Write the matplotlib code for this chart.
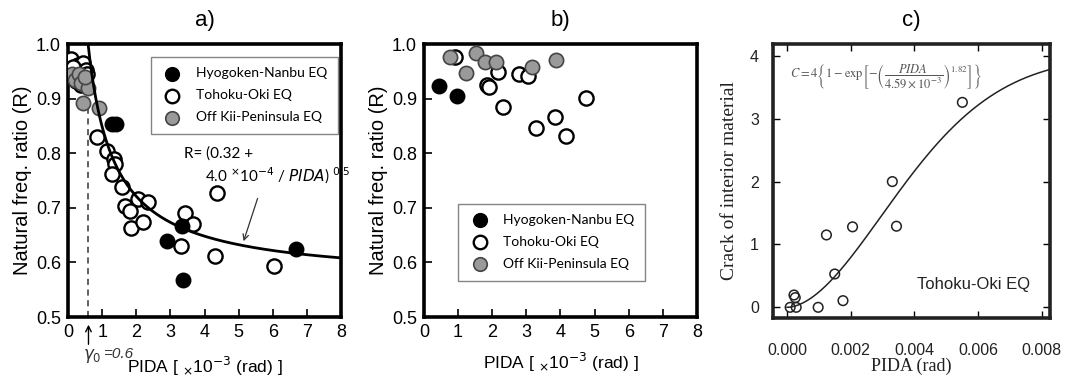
import numpy as np
import matplotlib
matplotlib.use("Agg")
import matplotlib.pyplot as plt

# ---------------- data ----------------
# a) PIDA [x1e-3 rad] vs natural frequency ratio R
a_hyogo_x = [1.28, 1.42, 2.91, 3.33, 3.36, 6.68]
a_hyogo_y = [0.853, 0.853, 0.640, 0.667, 0.568, 0.624]

a_tohoku_x = [0.10, 0.30, 0.45, 0.52, 0.22, 0.38, 0.55, 0.15,
              0.86, 1.15, 1.35, 1.38, 1.28, 1.57, 2.06, 2.35, 1.67, 1.82,
              1.86, 2.20, 4.36, 3.43, 3.67, 3.31, 4.31, 6.05]
a_tohoku_y = [0.972, 0.962, 0.965, 0.952, 0.932, 0.925, 0.945, 0.958,
              0.830, 0.805, 0.789, 0.781, 0.762, 0.738, 0.717, 0.711, 0.703, 0.694,
              0.663, 0.674, 0.727, 0.690, 0.670, 0.630, 0.612, 0.594]

a_kii_x = [0.12, 0.20, 0.32, 0.38, 0.60, 0.44, 0.91, 0.50]
a_kii_y = [0.946, 0.935, 0.946, 0.928, 0.920, 0.892, 0.882, 0.940]

# b) after-shock records
b_hyogo_x = [0.44, 0.98]
b_hyogo_y = [0.923, 0.905]

b_tohoku_x = [0.90, 1.85, 1.92, 2.17, 2.78, 3.04, 2.33, 3.27, 3.85, 4.17, 4.75]
b_tohoku_y = [0.977, 0.925, 0.922, 0.949, 0.946, 0.942, 0.885, 0.847, 0.867, 0.831, 0.902]

b_kii_x = [0.77, 1.53, 1.80, 2.12, 1.22, 3.17, 3.87]
b_kii_y = [0.976, 0.984, 0.968, 0.968, 0.947, 0.958, 0.971]

# c) PIDA [rad] vs crack grade of interior material
c_pida = [0.00010, 0.00022, 0.00026, 0.00029, 0.00098, 0.00124, 0.00150,
          0.00176, 0.00206, 0.00331, 0.00344, 0.00551]
c_crack = [0.0, 0.196, 0.154, 0.0, 0.0, 1.151, 0.53, 0.106, 1.28, 2.0, 1.29, 3.26]

# fitted model parameters
r_a, r_b, r_p = 0.32, 0.4, 0.5          # R = (0.32 + 4.0e-4 / PIDA)^0.5 (PIDA in 1e-3 rad)
gamma0 = 0.6
c_max, c_ref, c_exp = 4.0, 4.59e-3, 1.82

x_ticks_ab = [0, 1, 2, 3, 4, 5, 6, 7, 8]
y_ticks_ab = [0.5, 0.6, 0.7, 0.8, 0.9, 1.0]
c_xticks = [0.000, 0.002, 0.004, 0.006, 0.008]
c_yticks = [0, 1, 2, 3, 4]

labels = ["Hyogoken-Nanbu EQ", "Tohoku-Oki EQ", "Off Kii-Peninsula EQ"]

# ---------------- styling ----------------
SANS = ["Liberation Sans", "DejaVu Sans"]
LEG = ["Lato", "DejaVu Sans"]
SERIF = ["Liberation Serif", "DejaVu Serif"]
GRAY = "#9a9a9a"

fig = plt.figure(figsize=(10.66, 3.85), dpi=100)

ax_a = fig.add_axes([0.0638, 0.1766, 0.2561, 0.709])
ax_b = fig.add_axes([0.3977, 0.1766, 0.2561, 0.709])
ax_c = fig.add_axes([0.7251, 0.174, 0.2598, 0.712])


def style_ab(ax):
    ax.set_xlim(0, 8)
    ax.set_ylim(0.5, 1.0)
    ax.set_xticks(x_ticks_ab)
    ax.set_yticks(y_ticks_ab)
    ax.set_xticklabels([str(t) for t in x_ticks_ab], family=SANS, fontsize=13)
    ax.set_yticklabels([f"{t:.1f}" for t in y_ticks_ab], family=SANS, fontsize=13)
    ax.tick_params(direction="in", length=6, width=1.2, pad=5)
    for s in ax.spines.values():
        s.set_linewidth(2.6)
    ax.set_ylabel("Natural freq. ratio (R)", family=SANS, fontsize=14.5, labelpad=3)


def scatter_groups(ax, hx, hy, tx, ty, kx, ky, size=105):
    ax.scatter(tx, ty, s=size, facecolor="white", edgecolor="black", linewidth=1.7,
               zorder=3, label=labels[1])
    ax.scatter(kx, ky, s=size, facecolor=GRAY, edgecolor="#444444", linewidth=1.2,
               zorder=4, label=labels[2])
    ax.scatter(hx, hy, s=size, facecolor="black", edgecolor="black", linewidth=1.2,
               zorder=5, label=labels[0])


def legend_ab(ax, anchor):
    h, l = ax.get_legend_handles_labels()
    order = [l.index(x) for x in labels]
    leg = ax.legend([h[i] for i in order], [l[i] for i in order], loc="upper left",
                    bbox_to_anchor=anchor, frameon=True, fancybox=False,
                    edgecolor="#666666", prop={"family": LEG, "size": 10},
                    handletextpad=0.9, labelspacing=0.72, borderpad=0.75,
                    handlelength=1.6, borderaxespad=0.0, markerscale=0.95)
    leg.get_frame().set_linewidth(1.0)
    leg.set_zorder(2)
    return leg


# ---------------- panel a ----------------
style_ab(ax_a)
scatter_groups(ax_a, a_hyogo_x, a_hyogo_y, a_tohoku_x, a_tohoku_y, a_kii_x, a_kii_y)
xs = np.linspace(r_b / (1 - r_a) * 0.999, 8, 400)
ax_a.plot(xs, np.sqrt(r_a + r_b / xs), color="black", lw=2.0, zorder=6)
ax_a.plot([gamma0, gamma0], [0.5, 0.89], ls=(0, (4, 3)), color="#333333", lw=1.1, zorder=2)
legend_ab(ax_a, (0.303, 0.953))
ax_a.text(3.4, 0.80, "R= (0.32 +", family=LEG, fontsize=11, va="center")
ax_a.text(4.0, 0.758, r"4.0 $^{\times}$10$^{-4}$ / $\it{PIDA}$) $^{0.5}$", family=LEG,
          fontsize=11, va="center")
ax_a.annotate("", xy=(5.12, 0.634), xytext=(5.58, 0.722),
              arrowprops=dict(arrowstyle="->", color="#333333", lw=0.9))
ax_a.set_title("a)", family=SANS, fontsize=16, pad=13)
# yield drift marker below the axis
ax_a.annotate("", xy=(gamma0, 0.491), xytext=(gamma0, 0.445),
              xycoords="data", annotation_clip=False,
              arrowprops=dict(arrowstyle="->", color="black", lw=1.0))
ax_a.text(0.45, 0.428, r"$\gamma_0$", fontsize=12, va="center",
          color="#333333", clip_on=False)
ax_a.text(1.02, 0.433, "=0.6", fontsize=11, family=SANS, style="italic",
          va="center", color="#333333", clip_on=False)
ax_a.set_xlabel(r"PIDA [ $_{\times}$10$^{-3}$ (rad) ]", family=SANS, fontsize=12.5, labelpad=10)

# ---------------- panel b ----------------
style_ab(ax_b)
scatter_groups(ax_b, b_hyogo_x, b_hyogo_y, b_tohoku_x, b_tohoku_y, b_kii_x, b_kii_y)
legend_ab(ax_b, (0.125, 0.415))
ax_b.set_title("b)", family=SANS, fontsize=16, pad=13)
ax_b.set_xlabel(r"PIDA [ $_{\times}$10$^{-3}$ (rad) ]", family=SANS, fontsize=12.5, labelpad=7)

# ---------------- panel c ----------------
ax_c.set_xlim(-0.00044, 0.00826)
ax_c.set_ylim(-0.17, 4.19)
ax_c.set_xticks(c_xticks)
ax_c.set_yticks(c_yticks)
ax_c.set_xticklabels([f"{t:.3f}" for t in c_xticks], family=SANS, fontsize=11.5, color="#222222")
ax_c.set_yticklabels([str(t) for t in c_yticks], family=SANS, fontsize=11.5, color="#222222")
ax_c.tick_params(direction="in", length=5, width=1.0, top=True, right=True)
ax_c.tick_params(axis="x", pad=18)
ax_c.tick_params(axis="y", pad=10)
for s in ax_c.spines.values():
    s.set_linewidth(2.6)
    s.set_color("#222222")
xc = np.linspace(0, 0.00826, 400)
ax_c.plot(xc, c_max * (1 - np.exp(-(xc / c_ref) ** c_exp)), color="#222222", lw=1.1, zorder=2)
ax_c.scatter(c_pida, c_crack, s=48, facecolor="none", edgecolor="#222222", linewidth=1.1, zorder=3)
ax_c.text(0.00407, 0.36, "Tohoku-Oki EQ", family=SANS, fontsize=12, va="center", color="#222222")
ax_c.text(0.00010, 3.66,
          r"$C=4\left\{1-\mathrm{exp}\left[-\left(\dfrac{\mathit{PIDA}}{4.59\times10^{-3}}\right)^{1.82}\right]\right\}$",
          fontsize=9, va="center", color="#555555", math_fontfamily="stix")
ax_c.set_title("c)", family=SANS, fontsize=16, pad=13)
ax_c.set_xlabel("PIDA (rad)", family=SERIF, fontsize=13, labelpad=0, color="#222222")
ax_c.set_ylabel("Crack of interior material", family=SERIF, fontsize=14, labelpad=9, color="#222222")

fig.savefig("out.png", dpi=100)
